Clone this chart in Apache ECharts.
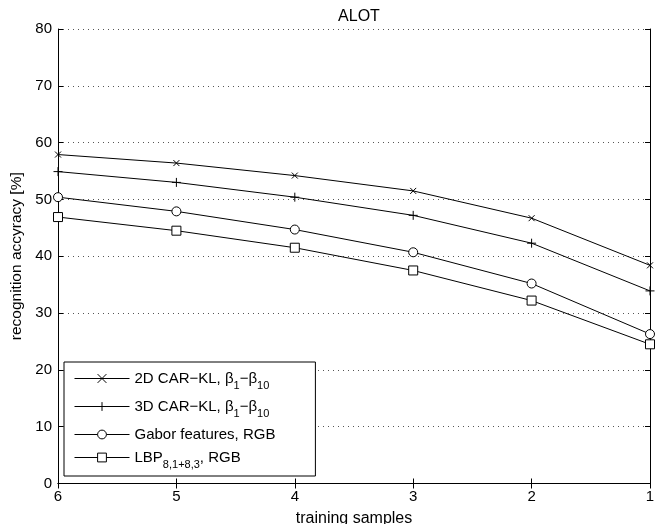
<!DOCTYPE html>
<html>
<head>
<meta charset="utf-8">
<script src="https://cdn.jsdelivr.net/npm/echarts@6/dist/echarts.min.js"></script>
<style>html,body{margin:0;padding:0;background:#fff}#c{width:659px;height:524px}</style>
</head>
<body>
<div id="c"></div>
<script>
var categories = ['6', '5', '4', '3', '2', '1'];
var yTicks = [0, 10, 20, 30, 40, 50, 60, 70, 80];
var car2d = [57.9, 56.4, 54.2, 51.5, 46.7, 38.4];
var car3d = [54.9, 53.0, 50.4, 47.2, 42.3, 33.9];
var gabor = [50.4, 47.9, 44.7, 40.7, 35.2, 26.3];
var lbp = [46.9, 44.5, 41.5, 37.5, 32.2, 24.5];
var seriesNames = ['2D CAR-KL', '3D CAR-KL', 'Gabor features, RGB', 'LBP RGB'];
var legendRich = {
  '2D CAR-KL': '2D CAR\u2212KL, \u03b2{s|1}\u2212\u03b2{s|10}',
  '3D CAR-KL': '3D CAR\u2212KL, \u03b2{s|1}\u2212\u03b2{s|10}',
  'Gabor features, RGB': 'Gabor features, RGB',
  'LBP RGB': 'LBP{s|8,1+8,3}, RGB'
};

var FONT = 'Liberation Sans, Arial, Helvetica, sans-serif';
var crossPath = 'path://M0,0L10,10M10,0L0,10';
var plusPath = 'path://M5,0L5,10M0,5L10,5';

function mk(name, data, symbol, size) {
  var isPath = symbol.indexOf('path') === 0;
  return {
    name: name, type: 'line', data: data,
    symbol: symbol, symbolSize: size, showAllSymbol: true,
    lineStyle: { color: '#000', width: 1 },
    itemStyle: { color: isPath ? 'rgba(0,0,0,0)' : '#fff', borderColor: '#000', borderWidth: 1 },
    emphasis: { disabled: true },
    animation: false, z: 3
  };
}

var chart = echarts.init(document.getElementById('c'));
chart.setOption({
  animation: false,
  backgroundColor: '#fff',
  title: { text: 'ALOT', left: 354, top: 4, textAlign: 'center',
    textStyle: { fontFamily: FONT, fontSize: 16, fontWeight: 'normal', color: '#000' } },
  grid: { left: 58, right: 9, top: 29, bottom: 40.5, containLabel: false, outerBoundsMode: 'none' },
  xAxis: [{
    type: 'category', data: categories, boundaryGap: false, position: 'bottom',
    name: 'training samples', nameLocation: 'middle', nameGap: 27,
    nameTextStyle: { fontFamily: FONT, fontSize: 16, color: '#000' },
    axisLine: { lineStyle: { color: '#000', width: 1 } },
    axisTick: { inside: true, length: 5, lineStyle: { color: '#000' } },
    axisLabel: { fontFamily: FONT, fontSize: 15, color: '#000', margin: 6 },
    splitLine: { show: false }
  }, {
    type: 'category', data: categories, boundaryGap: false, position: 'top',
    axisLine: { lineStyle: { color: '#000', width: 1 } },
    axisTick: { inside: true, length: 5, lineStyle: { color: '#000' } },
    axisLabel: { show: false }, splitLine: { show: false }
  }],
  yAxis: [{
    type: 'value', min: 0, max: 80, interval: 10, position: 'left',
    name: 'recognition accyracy [%]', nameLocation: 'middle', nameGap: 27,
    nameTextStyle: { fontFamily: FONT, fontSize: 15.5, color: '#000' },
    axisLine: { show: true, lineStyle: { color: '#000', width: 1 } },
    axisTick: { show: true, inside: true, length: 5, lineStyle: { color: '#000' } },
    axisLabel: { fontFamily: FONT, fontSize: 15, color: '#000', margin: 6,
      formatter: function (v) { return yTicks.indexOf(v) >= 0 ? String(v) : ''; } },
    splitLine: { show: true, lineStyle: { color: '#555', type: [1, 4], width: 1 } }
  }, {
    type: 'value', min: 0, max: 80, interval: 10, position: 'right',
    axisLine: { show: true, lineStyle: { color: '#000', width: 1 } },
    axisTick: { show: true, inside: true, length: 5, lineStyle: { color: '#000' } },
    axisLabel: { show: false }, splitLine: { show: false }
  }],
  legend: {
    orient: 'vertical', left: 64, top: 362,
    padding: [9, 40, 6, 10],
    backgroundColor: '#fff', borderColor: '#000', borderWidth: 1,
    itemWidth: 55, itemHeight: 11, itemGap: 8,
    itemStyle: { borderWidth: 1 },
    lineStyle: { width: 1 },
    data: seriesNames,
    selectedMode: false,
    textStyle: { fontFamily: FONT, fontSize: 15, color: '#000',
      rich: { s: { fontFamily: FONT, fontSize: 11, color: '#000', padding: [14, 0, 0, 0] } } },
    formatter: function (n) { return legendRich[n]; }
  },
  series: [
    mk(seriesNames[0], car2d, crossPath, 6),
    mk(seriesNames[1], car3d, plusPath, 9),
    mk(seriesNames[2], gabor, 'circle', 9),
    mk(seriesNames[3], lbp, 'rect', 9)
  ]
});
</script>
</body>
</html>
